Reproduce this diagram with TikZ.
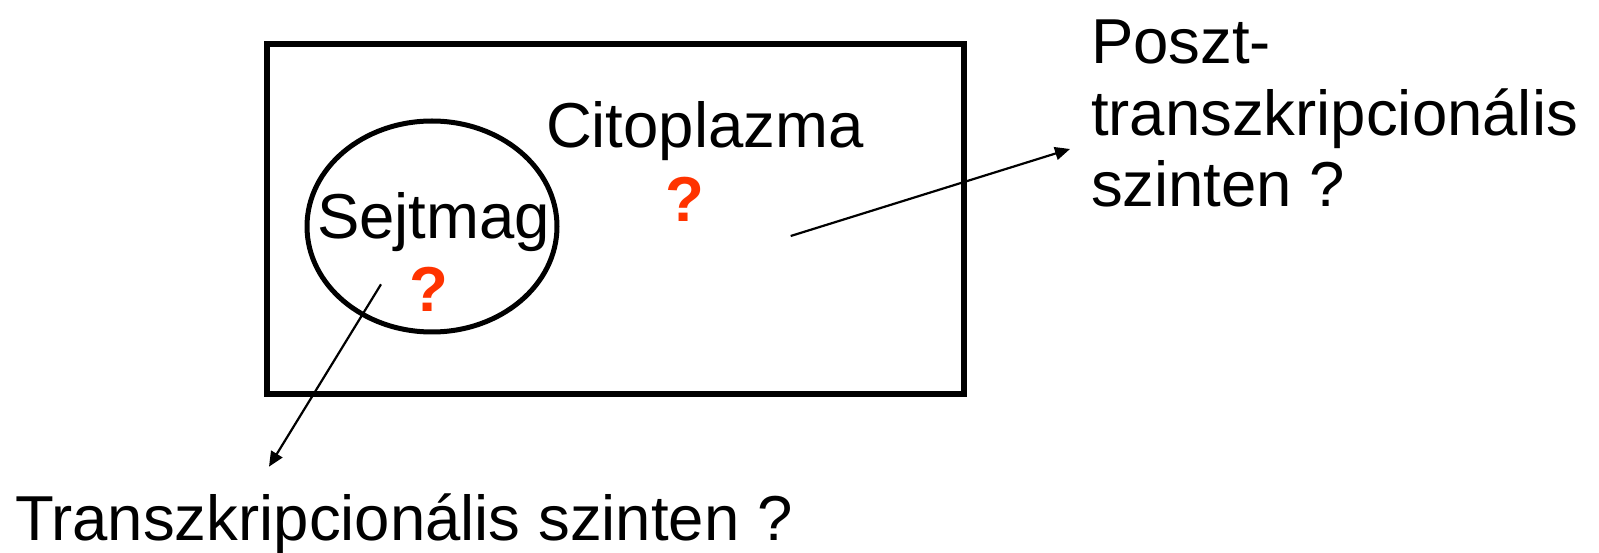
\documentclass[tikz,border=0pt]{standalone}
\usepackage{fontspec}
\setmainfont{Liberation Sans}
\usetikzlibrary{shapes.geometric,arrows.meta}
\definecolor{qred}{RGB}{255,51,0}
\tikzset{
  label/.style={inner sep=0pt, outer sep=0pt, font=\fontsize{63.5}{71.5}\selectfont},
  qmark/.style={inner sep=0pt, outer sep=0pt, text=qred, font=\fontsize{63.5}{71.5}\selectfont\bfseries},
  pointer/.style={line width=2.2pt, -{Triangle[length=15pt,width=13pt]}},
}
\begin{document}
\begin{tikzpicture}[x=1pt,y=-1pt]
\useasboundingbox (0,0) rectangle (1599,553);
\fill[white] (0,0) rectangle (1599,553);
% cell
\node[draw, line width=6pt, minimum width=697pt, minimum height=350pt, inner sep=0pt] (cell) at (615.75,219.35) {};
% nucleus
\node[ellipse, draw, line width=5pt, minimum width=250pt, minimum height=211pt, inner sep=0pt] (nucleus) at (432,226.5) {};
% labels
\node[label, anchor=base west] (cyto) at (546,148) {Citoplazma};
\node[label, anchor=base west] (nuc) at (317,239) {Sejtmag};
\node[qmark, anchor=base] (q1) at (685,222) {?};
\node[qmark, anchor=base] (q2) at (429,312) {?};
\node[label, anchor=north west, align=left] (post) at (1091,20) {Poszt-\\transzkripcionális\\szinten ?};
\node[label, anchor=base west] (trans) at (15,540) {Transzkripcionális szinten ?};
% arrows
\coordinate (a1s) at (790.7,236);
\coordinate (a1e) at (1070,149);
\coordinate (a2s) at (381,284.3);
\coordinate (a2e) at (269,466.7);
\draw[pointer] (a1s) -- (a1e);
\draw[pointer] (a2s) -- (a2e);
\end{tikzpicture}
\end{document}
